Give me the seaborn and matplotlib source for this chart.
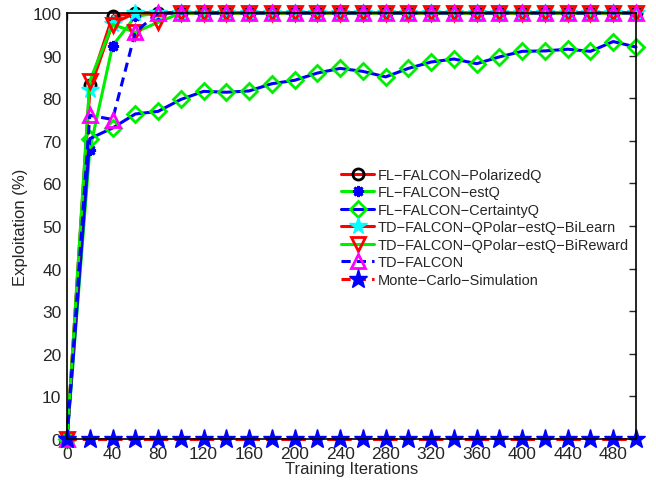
import numpy as np
import pandas as pd
import matplotlib
matplotlib.use("Agg")
import matplotlib.pyplot as plt
import seaborn as sns

sns.set_style("white")
plt.rcParams['font.family'] = ['Liberation Sans', 'DejaVu Sans']
plt.rcParams['axes.unicode_minus'] = True

iterations = list(range(0, 501, 20))

polarizedq = [0, 83, 99.2] + [100] * 23
estq = [0, 67.8, 92.3, 99.2] + [100] * 22
certaintyq = [0, 70.5, 73.0, 76.3, 76.9, 79.7, 81.6, 81.4, 81.7, 83.4, 84.2, 85.9,
              87.0, 86.3, 85.0, 87.0, 88.5, 89.2, 88.1, 89.7, 91.0, 91.1, 91.5,
              91.0, 93.3, 92.0]
bilearn = [0, 82, 97.5, 100] + [100] * 22
bireward = [0, 84, 97.3, 95.5, 97.8] + [100] * 21
tdfalcon = [0, 76, 75, 95.5] + [100] * 22
montecarlo = [0] * 26

labels = ["FL\u2212FALCON\u2212PolarizedQ", "FL\u2212FALCON\u2212estQ",
          "FL\u2212FALCON\u2212CertaintyQ", "TD\u2212FALCON\u2212QPolar\u2212estQ\u2212BiLearn",
          "TD\u2212FALCON\u2212QPolar\u2212estQ\u2212BiReward", "TD\u2212FALCON",
          "Monte\u2212Carlo\u2212Simulation"]

series = [polarizedq, estq, certaintyq, bilearn, bireward, tdfalcon, montecarlo]
styles = [
    dict(color="#ff0000", linestyle="-", marker="o", markersize=8, markerfacecolor="none",
         markeredgecolor="black", markeredgewidth=2.0),
    dict(color="#00ee00", linestyle="-", marker=(8, 2, 0), markersize=8, markerfacecolor="#0000ff",
         markeredgecolor="#0000ff", markeredgewidth=2.0),
    dict(color="#0000ff", linestyle="-", marker="D", markersize=8, markerfacecolor="none",
         markeredgecolor="#00ee00", markeredgewidth=2.0),
    dict(color="#ff0000", linestyle="-", marker="*", markersize=13, markerfacecolor="#00ffff",
         markeredgecolor="#00ffff", markeredgewidth=1),
    dict(color="#00ee00", linestyle="-", marker="v", markersize=10, markerfacecolor="none",
         markeredgecolor="#ff0000", markeredgewidth=2.0),
    dict(color="#0000ff", linestyle=(0, (3, 2)), marker="^", markersize=10, markerfacecolor="none",
         markeredgecolor="#ff00ff", markeredgewidth=2.0),
    dict(color="#ff0000", linestyle=(0, (3, 2)), marker="*", markersize=14, markerfacecolor="#0000ff",
         markeredgecolor="#0000ff", markeredgewidth=1),
]

fig = plt.figure(figsize=(6.56, 4.81), dpi=100)
ax = fig.add_axes([67 / 656, 1 - 440 / 481, (636 - 67) / 656, (440 - 14) / 481])

for vals, lab, st in zip(series, labels, styles):
    df = pd.DataFrame({"Training Iterations": iterations, "Exploitation": vals})
    sns.lineplot(data=df, x="Training Iterations", y="Exploitation", ax=ax, label=lab,
                 errorbar=None, linewidth=2.2, clip_on=False, **st)

ax.set_xlim(0, 500)
ax.set_ylim(0, 100)
ax.set_xticks(range(0, 481, 40))
ax.set_yticks(range(0, 101, 10))
ax.tick_params(direction="in", top=True, right=True, length=5, width=1, labelsize=12.5)
ax.tick_params(axis="x", pad=5)
ax.tick_params(axis="y", pad=4)
for s in ax.spines.values():
    s.set_visible(True)
    s.set_color("black")
    s.set_linewidth(1.2)
ax.set_xlabel("Training Iterations", fontsize=12, labelpad=0)
ax.set_ylabel("Exploitation (%)", fontsize=12, labelpad=3)

leg = ax.legend(loc="upper left", bbox_to_anchor=(0.472, 0.65), frameon=False, fontsize=10.45,
                handlelength=2.25, handletextpad=0.27, labelspacing=0.24, borderaxespad=0)

fig.savefig("out.png", dpi=100)
